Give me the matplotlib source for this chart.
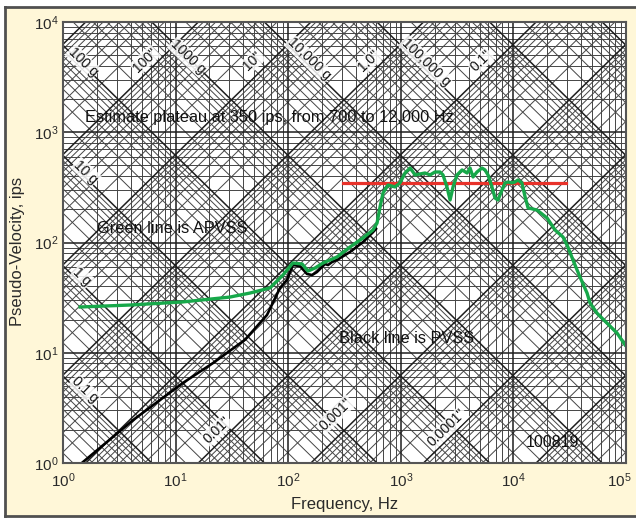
import numpy as np
import matplotlib.pyplot as plt
import matplotlib.transforms as mtransforms
from matplotlib.collections import LineCollection
from matplotlib.patches import Rectangle
from matplotlib.lines import Line2D

plt.rcParams['font.family'] = ['Liberation Sans', 'DejaVu Sans']

# APVSS (green line): frequency in Hz, pseudo-velocity in ips
green_freq = [1.42, 3.94, 11.6, 30.4, 45.8, 68.9, 89.9, 110, 133, 150, 173, 204, 271,
              354, 462, 566, 615, 654, 695, 770, 888, 984, 1090, 1210, 1340, 1640,
              1820, 2010, 2230, 2370, 2570, 2740, 2910, 3160, 3500, 3880, 4120, 4380,
              4750, 5260, 5600, 5950, 6450, 6870, 7300, 7920, 8420, 8950, 9720, 10300,
              11000, 11900, 12700, 13500, 16200, 19900, 23400, 27600, 30500, 33800,
              39000, 45100, 47900, 55200, 67700, 83200, 98000]
green_vel = [26.0, 27.1, 28.9, 32.0, 34.8, 38.7, 50.7, 65.2, 63.8, 55.1, 58.7, 65.2, 73.9,
             91.0, 110, 130, 150, 210, 281, 332, 319, 347, 427, 474, 410, 427,
             410, 436, 436, 410, 319, 243, 319, 410, 455, 427, 474, 393,
             436, 474, 455, 410, 319, 253, 243, 299, 347, 354, 347, 354,
             369, 347, 259, 206, 197, 167, 130, 112, 91.0, 69.4,
             48.7, 34.8, 28.3, 22.9, 18.6, 15.1, 11.8]

# PVSS (black line)
black_freq = [1.47, 4.19, 7.27, 11.6, 21.5, 41.3, 64.8, 84.6, 97.5, 110, 127, 147, 163,
              180, 212, 226, 245, 271, 354, 462, 566, 602]
black_vel = [1.0, 2.45, 3.73, 5.32, 8.07, 13.1, 22.0, 38.7, 45.7, 62.5, 61.2, 51.8, 50.7,
             54.0, 63.8, 62.5, 66.5, 69.4, 82.0, 101, 124, 133]

# estimated plateau (red line)
plateau_freq = [307, 29300]
plateau_vel = [350, 350]

x_ticks = [1, 10, 100, 1000, 10000, 100000]
y_ticks = [1, 10, 100, 1000, 10000]
x_ticklabels = [r'$\mathregular{10^{%d}}$' % i for i in range(6)]
y_ticklabels = [r'$\mathregular{10^{%d}}$' % i for i in range(5)]

# labels of the diagonal lines, centre position in pixels of the 636x519 image
accel_labels = [('100 g', 83, 62), ('1000 g', 188, 57), ('10,000 g', 309, 59),
                ('100,000 g', 426, 62), ('10 g', 86, 172), ('1 g', 82, 277),
                ('0.1 g', 85, 390)]
disp_labels = [('100"', 145, 60), ('10"', 253, 61), ('1.0"', 369, 61), ('0.1"', 481, 61),
               ('0.01"', 217, 430), ('0.001"', 336, 414), ('0.0001"', 447, 428)]

G = 386.09  # in/s^2 per g
W, H = 636, 519
AX_L, AX_R, AX_T, AX_B = 63, 626, 22, 463

fig = plt.figure(figsize=(W / 100, H / 100), dpi=100)
fig.patch.set_facecolor('white')
# cream panel with a frame on the left, top and bottom
fig.add_artist(Rectangle((5 / W, 3 / H), 1 - 5 / W, 509 / H, transform=fig.transFigure,
                         facecolor='#fff7d8', edgecolor='none', zorder=0))
frame = dict(transform=fig.transFigure, color='#505050', lw=2, zorder=0.5)
fig.add_artist(Line2D([5 / W, 1], [512 / H, 512 / H], **frame))
fig.add_artist(Line2D([5 / W, 1], [3 / H, 3 / H], **frame))
fig.add_artist(Line2D([5 / W, 5 / W], [3 / H, 512 / H], **frame))

ax = fig.add_axes([AX_L / W, (H - AX_B) / H, (AX_R - AX_L) / W, (AX_B - AX_T) / H])
ax.set_xscale('log')
ax.set_yscale('log')
ax.set_xlim(1, 1e5)
ax.set_ylim(1, 1e4)
ax.set_facecolor('white')

# rectilinear and diagonal grid of the tripartite paper
minor, major = [], []
for n in range(0, 5):
    for k in range(1, 10):
        f = k * 10.0 ** n
        (major if k == 1 else minor).append([(f, 1), (f, 1e4)])
for n in range(0, 4):
    for k in range(1, 10):
        v = k * 10.0 ** n
        (major if k == 1 else minor).append([(1, v), (1e5, v)])
fa, fb = 1e-3, 1e8
for n in range(-3, 9):
    for k in range(1, 10):
        a = k * 10.0 ** n
        seg = [(fa, a * G / (2 * np.pi * fa)), (fb, a * G / (2 * np.pi * fb))]
        (major if k == 1 else minor).append(seg)
for n in range(-7, 4):
    for k in range(1, 10):
        d = k * 10.0 ** n
        seg = [(fa, 2 * np.pi * fa * d), (fb, 2 * np.pi * fb * d)]
        (major if k == 1 else minor).append(seg)

ax.add_collection(LineCollection(minor, colors='#454545', linewidths=0.7, zorder=1))
ax.add_collection(LineCollection(major, colors='#1e1e1e', linewidths=1.1, zorder=1.5))

# diagonal labels
lab_box = dict(facecolor='white', edgecolor='none', pad=0.6, alpha=0.85)
for txt, px, py in accel_labels:
    ax.text((px - AX_L) / (AX_R - AX_L), (AX_B - py) / (AX_B - AX_T), txt,
            transform=ax.transAxes, rotation=-44, ha='center', va='center',
            rotation_mode='anchor', fontsize=10, color='#111111', bbox=lab_box, zorder=3)
for txt, px, py in disp_labels:
    ax.text((px - AX_L) / (AX_R - AX_L), (AX_B - py) / (AX_B - AX_T), txt,
            transform=ax.transAxes, rotation=44, ha='center', va='center',
            rotation_mode='anchor', fontsize=10, color='#111111', bbox=lab_box, zorder=3)

# curves
ax.plot(plateau_freq, plateau_vel, color='#e8322a', lw=2.3, zorder=4)
ax.plot(black_freq, black_vel, color='black', lw=1.9, zorder=5)
ax.plot(green_freq, green_vel, color='#17a84a', lw=2.4, zorder=6)

# annotations
ax.text(1.57, 1375, 'Estimate plateau at 350 ips, from 700 to 12,000 Hz',
        fontsize=11.8, va='center', ha='left', color='#111111', zorder=7)
ax.text(2.0, 135, 'Green line is APVSS', fontsize=11.8, va='center', ha='left',
        color='#111111', zorder=7)
ax.text(283, 13.6, 'Black line is PVSS', fontsize=11.8, va='center', ha='left',
        color='#111111', zorder=7)
ax.text(12900, 1.52, '100819', fontsize=11.5, va='center', ha='left',
        color='#111111', zorder=7)

ax.set_xticks(x_ticks)
ax.set_xticklabels(x_ticklabels)
ax.set_yticks(y_ticks)
ax.set_yticklabels(y_ticklabels)
ax.minorticks_off()
ax.tick_params(length=0, labelsize=11, colors='#2a2a2a')
ax.tick_params(axis='x', pad=6)
ax.tick_params(axis='y', pad=3)
# last frequency label sits a little to the left so it stays inside the image
last = ax.get_xticklabels()[-1]
last.set_transform(last.get_transform() +
                   mtransforms.ScaledTranslation(-7 / 100, 0, fig.dpi_scale_trans))
for s in ax.spines.values():
    s.set_color('#555555')
    s.set_linewidth(1.5)
    s.set_zorder(8)

ax.set_xlabel('Frequency, Hz', fontsize=12, color='#2a2a2a', labelpad=5)
ax.set_ylabel('Pseudo-Velocity, ips', fontsize=12, color='#2a2a2a')
ax.yaxis.set_label_coords(-0.068, 0.48)

fig.savefig('out.png', dpi=100, facecolor=fig.get_facecolor())
